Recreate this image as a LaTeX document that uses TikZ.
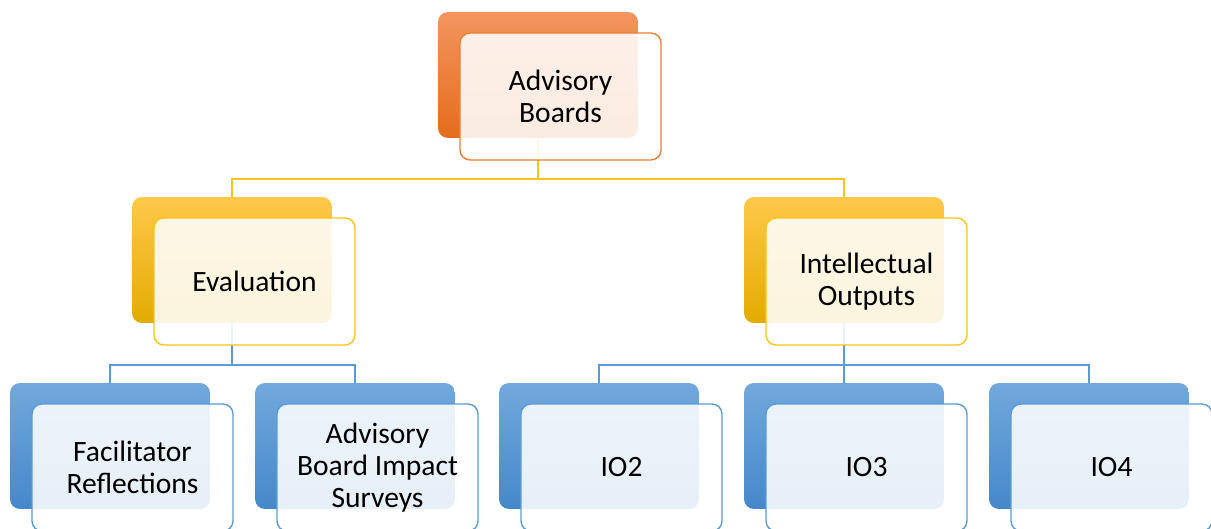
\documentclass[tikz,border=0pt]{standalone}
\usepackage{fontspec}
\setmainfont{Carlito}
\usepackage{xcolor}
\usetikzlibrary{positioning}

\definecolor{orgline}{HTML}{ED7D31}
\definecolor{orgtop}{HTML}{F3955F}
\definecolor{orgmid}{HTML}{EF7D33}
\definecolor{orgbot}{HTML}{E46C1C}
\definecolor{goldline}{HTML}{FFC21A}
\definecolor{goldtop}{HTML}{FFC84A}
\definecolor{goldmid}{HTML}{FFC000}
\definecolor{goldbot}{HTML}{E2AB00}
\definecolor{blueline}{HTML}{5B9BD5}
\definecolor{bluetop}{HTML}{72A8DC}
\definecolor{bluemid}{HTML}{5A9AD6}
\definecolor{bluebot}{HTML}{4588CA}

\tikzset{
  backbox/.style={rounded corners=0.2cm, minimum width=4cm, minimum height=2.52cm, inner sep=0pt},
  frontbox/.style={rounded corners=0.2cm, minimum width=4.02cm, minimum height=2.54cm, inner sep=0pt,
    fill=white, fill opacity=0.87, text opacity=1, line width=0.8pt, align=center,
    xshift=0.45cm, yshift=-0.43cm, font=\fontsize{16.8}{18.2}\selectfont},
  orgback/.style={backbox, top color=orgtop, middle color=orgmid, bottom color=orgbot},
  goldback/.style={backbox, top color=goldtop, middle color=goldmid, bottom color=goldbot},
  blueback/.style={backbox, top color=bluetop, middle color=bluemid, bottom color=bluebot},
  goldlink/.style={draw=goldline, line width=0.8pt},
  bluelink/.style={draw=blueline, line width=0.8pt},
}

\begin{document}
\begin{tikzpicture}[x=0.02cm, y=-0.02cm]
  \clip (0,0) rectangle (1211,528);
  \fill[white] (0,0) rectangle (1211,528);

  % back boxes
  \node[orgback] (advB) at (538,75) {};
  \node[goldback] (evlB) at (232,260) {};
  \node[goldback] (iopB) at (844,260) {};
  \node[blueback] (facB) at (110,446) {};
  \node[blueback] (abiB) at (355,446) {};
  \node[blueback] (io2B) at (599,446) {};
  \node[blueback] (io3B) at (844,446) {};
  \node[blueback] (io4B) at (1089,446) {};

  % connectors
  \coordinate (advJ) at (advB.south |- 0,179);
  \draw[goldlink] (advB.south) -- (advJ);
  \draw[goldlink] (advJ) -| (evlB.north);
  \draw[goldlink] (advJ) -| (iopB.north);

  \coordinate (evlJ) at (evlB.south |- 0,365);
  \draw[bluelink] (evlB.south) -- (evlJ);
  \draw[bluelink] (evlJ) -| (facB.north);
  \draw[bluelink] (evlJ) -| (abiB.north);

  \coordinate (iopJ) at (iopB.south |- 0,365);
  \draw[bluelink] (iopB.south) -- (iopJ);
  \draw[bluelink] (iopJ) -| (io2B.north);
  \draw[bluelink] (iopJ) -- (io3B.north);
  \draw[bluelink] (iopJ) -| (io4B.north);

  % front boxes with the labels
  \node[frontbox, draw=orgline] (advF) at (advB) {Advisory\\Boards};
  \node[frontbox, draw=goldline] (evlF) at (evlB) {Evaluation};
  \node[frontbox, draw=goldline] (iopF) at (iopB) {Intellectual\\Outputs};
  \node[frontbox, draw=blueline] (facF) at (facB) {Facilitator\\Reflections};
  \node[frontbox, draw=blueline] (abiF) at (abiB) {Advisory\\Board Impact\\Surveys};
  \node[frontbox, draw=blueline] (io2F) at (io2B) {IO2};
  \node[frontbox, draw=blueline] (io3F) at (io3B) {IO3};
  \node[frontbox, draw=blueline] (io4F) at (io4B) {IO4};
\end{tikzpicture}
\end{document}
